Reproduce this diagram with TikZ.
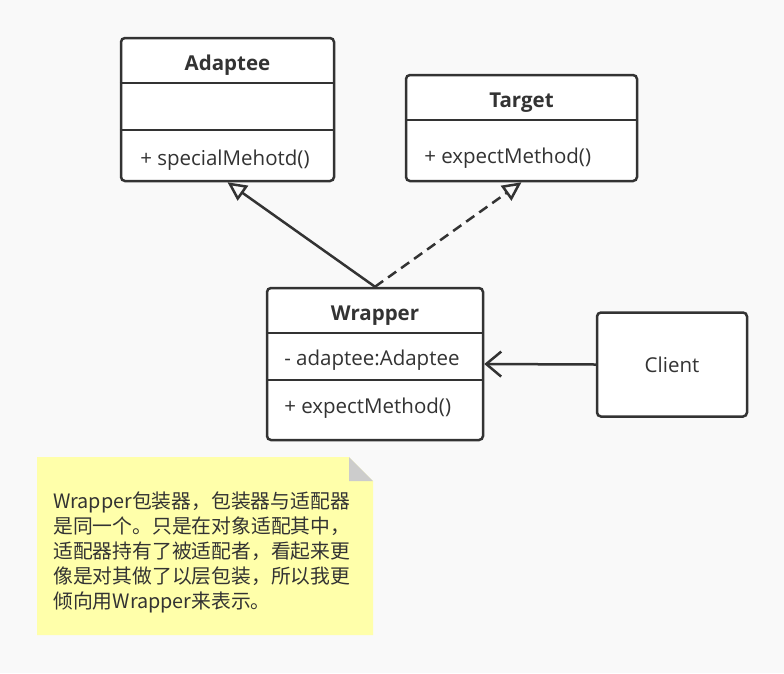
\documentclass[tikz,border=0pt]{standalone}
\usepackage{fontspec}
\setmainfont{Open Sans}
\newfontfamily\cjk{Noto Sans CJK SC}
\usetikzlibrary{arrows.meta}

\definecolor{ink}{HTML}{333333}
\definecolor{paper}{HTML}{F9F9F9}
\definecolor{notefill}{HTML}{FFFFAA}
\definecolor{foldgray}{HTML}{CCCCCC}

\tikzset{
    classbox/.style={draw=ink, fill=white, rounded corners=4pt, inner sep=0pt},
    classname/.style={font=\fontsize{20.5}{24}\selectfont\bfseries, text=ink, anchor=base},
    member/.style={font=\fontsize{20.5}{24}\selectfont, text=ink, anchor=base west, inner sep=0pt},
    inherit/.style={-{Triangle[open, length=19pt, width=18pt]}},
    realize/.style={inherit, dash pattern=on 10pt off 6pt},
}

\begin{document}
\begin{tikzpicture}[x=1pt, y=-1pt, line width=2.5pt, draw=ink]
    \fill[paper] (0,0) rectangle (784,673);
    \useasboundingbox (0,0) rectangle (784,673);

    % class boxes
    \node[classbox, minimum width=213, minimum height=143] at (227.5, 109.5) (adaptee) {};
    \node[classbox, minimum width=231, minimum height=106] at (521.5, 128) (target) {};
    \node[classbox, minimum width=216, minimum height=152] at (375, 364) (wrapper) {};
    \node[classbox, minimum width=150, minimum height=104, font=\fontsize{20.5}{24}\selectfont, text=ink] at (672, 364.5) (client) {Client};

    % compartments
    \draw (adaptee.west |- 0,83) -- (adaptee.east |- 0,83);
    \draw (adaptee.west |- 0,130) -- (adaptee.east |- 0,130);
    \draw (target.west |- 0,120) -- (target.east |- 0,120);
    \draw (wrapper.west |- 0,333) -- (wrapper.east |- 0,333);
    \draw (wrapper.west |- 0,380) -- (wrapper.east |- 0,380);

    \node[classname] at (227.5, 70) (adapteename) {Adaptee};
    \node[member] at (139, 165) (adapteeop) {+ specialMehotd()};
    \node[classname] at (521.5, 107) (targetname) {Target};
    \node[member] at (423, 163) (targetop) {+ expectMethod()};
    \node[classname] at (375, 320) (wrappername) {Wrapper};
    \node[member] at (283, 365) (wrapperattr) {- adaptee:Adaptee};
    \node[member] at (283, 413) (wrapperop) {+ expectMethod()};

    % relations
    \draw[inherit] (wrapper.north) -- (adaptee.south);
    \draw[realize] (wrapper.north) -- (target.south);
    \draw[-{Straight Barb[length=15pt, width=25pt]}] (client.west) -- (wrapper.east);

    % note
    \fill[notefill] (37,457) -- (349,457) -- (373,481) -- (373,635) -- (37,635) -- cycle;
    \fill[foldgray] (349,457) -- (349,481) -- (373,481) -- cycle;
    \node[anchor=north west, inner sep=0pt, align=left, text=ink,
          font=\cjk\fontsize{19.8}{25}\selectfont] at (52, 491) (note) {%
        Wrapper包装器，包装器与适配器\\
        是同一个。只是在对象适配其中，\\
        适配器持有了被适配者，看起来更\\
        像是对其做了以层包装，所以我更\\
        倾向用Wrapper来表示。};
\end{tikzpicture}
\end{document}
